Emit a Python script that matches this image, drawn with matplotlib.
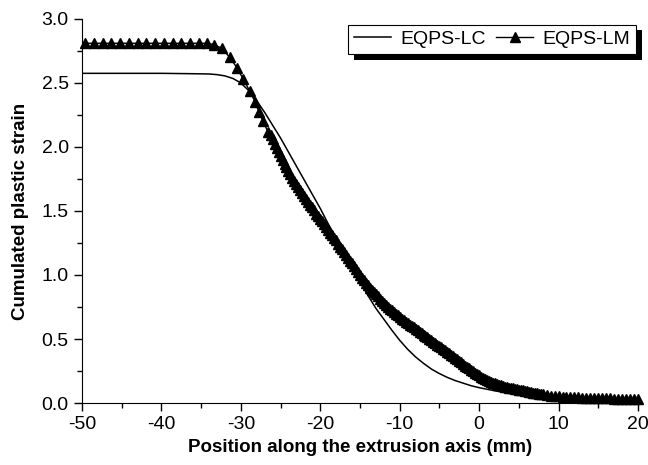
import numpy as np
import matplotlib
matplotlib.use("Agg")
from matplotlib import pyplot as plt
from matplotlib import patheffects as pe
from matplotlib.ticker import MultipleLocator

plt.rcParams['font.family'] = ['Liberation Sans', 'DejaVu Sans']
plt.rcParams['axes.unicode_minus'] = False

# EQPS-LC (solid line)
lc_x = [-50, -45, -40, -36, -34, -33, -32, -31, -30, -29, -28, -27, -26, -25,
        -24, -23, -22, -21, -20, -19, -18, -17, -16, -15, -14, -13, -12, -11,
        -10, -9, -8, -7, -6, -5, -4, -3, -2, -1, 0, 2, 4, 6, 8, 10, 14, 20]
lc_y = [2.575, 2.575, 2.575, 2.572, 2.570, 2.565, 2.555, 2.535, 2.50, 2.44,
        2.36, 2.27, 2.17, 2.07, 1.96, 1.85, 1.74, 1.63, 1.52, 1.40, 1.29, 1.17,
        1.06, 0.95, 0.84, 0.74, 0.655, 0.57, 0.49, 0.42, 0.36, 0.31, 0.265,
        0.23, 0.20, 0.175, 0.155, 0.135, 0.12, 0.095, 0.075, 0.06, 0.045,
        0.035, 0.025, 0.02]

# EQPS-LM (triangles) - plateau / first descent, nodes spaced wide
lm_x_a = [-49.6, -48.5, -47.4, -46.3, -45.2, -44.1, -43.0, -41.9, -40.8, -39.7,
          -38.6, -37.5, -36.4, -35.3, -34.3, -33.4, -32.4, -31.4, -30.5, -29.7,
          -28.9, -28.2, -27.7, -27.2, -26.6]
lm_y_a = [2.81, 2.81, 2.81, 2.81, 2.81, 2.81, 2.81, 2.81, 2.81, 2.81,
          2.81, 2.81, 2.81, 2.81, 2.81, 2.80, 2.77, 2.70, 2.62, 2.53,
          2.44, 2.35, 2.27, 2.20, 2.12]

# EQPS-LM - dense nodes
lm_x_b = [-26.25, -26.0, -25.75, -25.5, -25.25, -25.0, -24.75, -24.5, -24.25,
          -24.0, -23.75, -23.5, -23.25, -23.0, -22.75, -22.5, -22.25,
          -22.0, -21.75, -21.5, -21.25, -21.0, -20.75, -20.5, -20.25,
          -20.0, -19.75, -19.5, -19.25, -19.0, -18.75, -18.5, -18.25,
          -18.0, -17.75, -17.5, -17.25, -17.0, -16.75, -16.5, -16.25,
          -16.0, -15.75, -15.5, -15.25, -15.0, -14.75, -14.5, -14.25,
          -14.0, -13.75, -13.5, -13.25, -13.0, -12.75, -12.5, -12.25,
          -12.0, -11.75, -11.5, -11.25, -11.0, -10.75, -10.5, -10.25,
          -10.0, -9.75, -9.5, -9.25, -9.0, -8.75, -8.5, -8.25,
          -8.0, -7.75, -7.5, -7.25, -7.0, -6.75, -6.5, -6.25,
          -6.0, -5.75, -5.5, -5.25, -5.0, -4.75, -4.5, -4.25,
          -4.0, -3.75, -3.5, -3.25, -3.0, -2.75, -2.5, -2.25,
          -2.0, -1.75, -1.5, -1.25, -1.0, -0.75, -0.5, -0.25,
          0.0, 0.25, 0.5, 0.75, 1.0, 1.25, 1.5, 1.75,
          2.0, 2.25, 2.5, 2.75, 3.0, 3.25, 3.5, 3.75,
          4.0, 4.25, 4.5, 4.75, 5.0, 5.25, 5.5, 5.75,
          6.0, 6.25, 6.5, 6.75, 7.0, 7.25, 7.5, 7.75,
          8.0, 8.5, 9.0, 9.5, 10.0, 10.5, 11.0, 11.5, 12.0, 12.5,
          13.0, 13.5, 14.0, 14.5, 15.0, 15.5, 16.0, 16.5, 17.0, 17.5,
          18.0, 18.5, 19.0, 19.5, 20.0]
lm_y_b = [2.09, 2.06, 2.02, 1.99, 1.96, 1.93, 1.90, 1.87, 1.84,
          1.81, 1.785, 1.76, 1.735, 1.71, 1.685, 1.66, 1.64,
          1.62, 1.595, 1.57, 1.55, 1.53, 1.505, 1.48, 1.46,
          1.44, 1.42, 1.40, 1.375, 1.35, 1.33, 1.31, 1.29,
          1.27, 1.245, 1.22, 1.20, 1.18, 1.155, 1.13, 1.11,
          1.09, 1.07, 1.05, 1.025, 1.00, 0.98, 0.96, 0.94,
          0.92, 0.902, 0.885, 0.867, 0.85, 0.832, 0.815, 0.798,
          0.782, 0.767, 0.752, 0.738, 0.724, 0.71, 0.697, 0.684,
          0.672, 0.66, 0.648, 0.636, 0.625, 0.613, 0.602, 0.591,
          0.58, 0.568, 0.557, 0.546, 0.535, 0.523, 0.512, 0.501,
          0.49, 0.479, 0.468, 0.456, 0.445, 0.434, 0.423, 0.411,
          0.40, 0.388, 0.377, 0.365, 0.353, 0.341, 0.329, 0.317,
          0.305, 0.293, 0.281, 0.270, 0.259, 0.248, 0.237, 0.226,
          0.215, 0.205, 0.196, 0.187, 0.179, 0.172, 0.165, 0.159,
          0.153, 0.147, 0.142, 0.137, 0.132, 0.128, 0.124, 0.12,
          0.117, 0.114, 0.111, 0.108, 0.105, 0.102, 0.098, 0.095,
          0.091, 0.088, 0.084, 0.081, 0.078, 0.075, 0.072, 0.07,
          0.067, 0.062, 0.058, 0.055, 0.052, 0.05, 0.048, 0.046, 0.045, 0.044,
          0.043, 0.042, 0.041, 0.04, 0.039, 0.038, 0.037, 0.036, 0.035, 0.034,
          0.033, 0.033, 0.032, 0.032, 0.031]

lm_x = lm_x_a + lm_x_b
lm_y = lm_y_a + lm_y_b

fig = plt.figure(figsize=(6.48, 4.65), dpi=100)
ax = fig.add_axes([0.1265, 0.1333, 0.858, 0.826])

ax.plot(lc_x, lc_y, color='k', lw=1.1, label='EQPS-LC')
ax.plot(lm_x, lm_y, color='k', lw=1.0, marker='^', ms=7, mec='k', mfc='k',
        label='EQPS-LM', clip_on=False)

ax.set_xlim(-50, 20)
ax.set_ylim(0, 3.0)
ax.xaxis.set_major_locator(MultipleLocator(10))
ax.xaxis.set_minor_locator(MultipleLocator(5))
ax.yaxis.set_major_locator(MultipleLocator(0.5))
ax.yaxis.set_minor_locator(MultipleLocator(0.25))
ax.yaxis.set_major_formatter(plt.FormatStrFormatter('%.1f'))
ax.tick_params(which='major', direction='out', length=6, width=1, labelsize=14)
ax.tick_params(which='minor', direction='out', length=3.5, width=1)
ax.spines['top'].set_visible(False)
ax.spines['right'].set_visible(False)

ax.set_xlabel('Position along the extrusion axis (mm)', fontsize=13.5,
              fontweight='bold', labelpad=4)
ax.set_ylabel('Cumulated plastic strain', fontsize=13.5, fontweight='bold',
              labelpad=9)

leg = ax.legend(loc='upper right', bbox_to_anchor=(0.997, 0.985), ncol=2,
                fontsize=14, frameon=True, fancybox=False, framealpha=1,
                edgecolor='k', handlelength=1.9, handletextpad=0.5,
                columnspacing=0.5, borderpad=0.3, borderaxespad=0)
leg.get_frame().set_linewidth(0.8)
leg.get_frame().set_path_effects([
    pe.SimplePatchShadow(offset=(4, -4), shadow_rgbFace='k', alpha=1),
    pe.Normal()])

fig.savefig('out.png', dpi=100)
